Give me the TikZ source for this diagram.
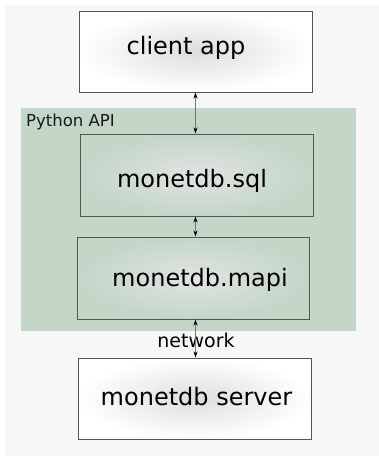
\documentclass[tikz,border=0pt]{standalone}
\usepackage{fontspec}
\setmainfont{DejaVu Sans}
\usetikzlibrary{arrows.meta}
\definecolor{bggray}{HTML}{F7F7F7}
\definecolor{apigreen}{HTML}{C3D6C8}
\definecolor{boxline}{HTML}{555555}
\definecolor{greenline}{HTML}{4E5A50}
\tikzset{
  whitebox/.style={draw=boxline, line width=1pt, inner color=black!13, outer color=white},
  greenbox/.style={draw=greenline, line width=1pt, inner color=black!10!white!88!apigreen, outer color=apigreen},
  bigtext/.style={font=\fontsize{24}{28}\selectfont, anchor=base, inner sep=0pt},
  link/.style={draw=black!55, line width=0.8pt, {Stealth[length=6pt,width=4pt,black]}-{Stealth[length=6pt,width=4pt,black]}, shorten <=0.5pt, shorten >=0.5pt}
}
\begin{document}
\begin{tikzpicture}[x=1pt,y=-1pt]
\useasboundingbox (0,0) rectangle (379,456);
\fill[white] (0,0) rectangle (379,456);
\fill[bggray] (5,5) rectangle (379,456);
% Python API area
\fill[apigreen] (21,108) rectangle (356,331);
\node[anchor=base west, inner sep=0pt, font=\fontsize{16.5}{19}\selectfont, text=black!90] (api) at (26,126) {Python API};
% boxes
\path[whitebox] (79,11) rectangle (312,92);
\coordinate (clientTop) at (195.5,11);
\coordinate (clientBot) at (195.5,92);
\node[bigtext] (client) at (186,54) {client app};
\path[greenbox] (80,134) rectangle (313,216);
\coordinate (sqlTop) at (195.5,134);
\coordinate (sqlBot) at (195.5,216);
\node[bigtext] (sql) at (192,187) {monetdb.sql};
\path[greenbox] (77,237) rectangle (309,319);
\coordinate (mapiTop) at (195.5,237);
\coordinate (mapiBot) at (195.5,319);
\node[bigtext] (mapi) at (200,286) {monetdb.mapi};
\path[whitebox] (78,358) rectangle (311,439);
\coordinate (serverTop) at (195.5,358);
\node[bigtext] (server) at (196.5,405) {monetdb server};
% network label
\node[anchor=base, inner sep=0pt, font=\fontsize{19}{22}\selectfont] (net) at (196,347) {network};
% connectors
\draw[link] (clientBot) -- (sqlTop);
\draw[link] (sqlBot) -- (mapiTop);
\draw[link] (mapiBot) -- (serverTop);
\end{tikzpicture}
\end{document}
